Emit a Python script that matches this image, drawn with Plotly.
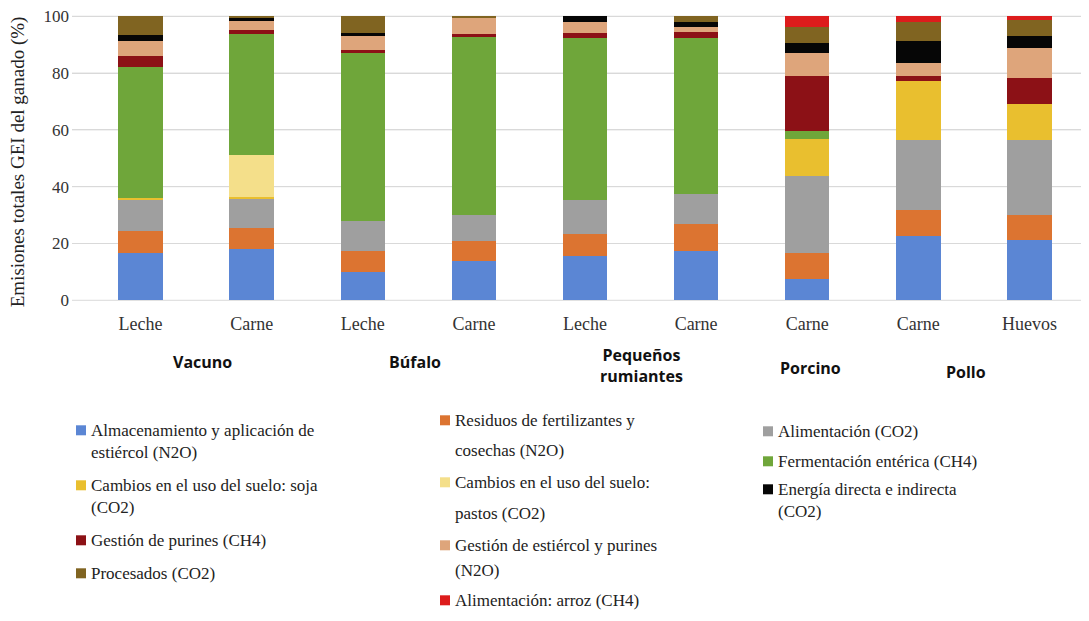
import plotly.graph_objects as go

# ---------------- data ----------------
bar_labels = ["Leche", "Carne", "Leche", "Carne", "Leche", "Carne", "Carne", "Carne", "Huevos"]
group_labels = ["Vacuno", "Búfalo", "Pequeños<br>rumiantes", "Porcino", "Pollo"]
group_centers = [0.553, 2.47, 4.51, 6.03, 7.43]

series_names = [
    "Almacenamiento y aplicación de estiércol (N2O)",
    "Residuos de fertilizantes y cosechas (N2O)",
    "Alimentación (CO2)",
    "Cambios en el uso del suelo: soja (CO2)",
    "Cambios en el uso del suelo: pastos (CO2)",
    "Fermentación entérica (CH4)",
    "Gestión de purines (CH4)",
    "Gestión de estiércol y purines (N2O)",
    "Energía directa e indirecta (CO2)",
    "Procesados (CO2)",
    "Alimentación: arroz (CH4)",
]

almacenamiento = [16.8, 18.1, 9.9, 13.7, 15.6, 17.5, 7.6, 22.5, 21.4]
residuos       = [7.6, 7.5, 7.4, 7.2, 7.6, 9.3, 9.2, 9.2, 8.5]
alimentacion   = [11.2, 10.3, 10.5, 9.3, 12.2, 10.8, 27.0, 24.6, 26.7]
soja           = [0.5, 0.3, 0.0, 0.0, 0.0, 0.0, 12.9, 20.9, 12.4]
pastos         = [0.0, 15.0, 0.0, 0.0, 0.0, 0.0, 0.0, 0.0, 0.0]
fermentacion   = [46.1, 42.5, 59.4, 62.5, 57.0, 54.8, 2.9, 0.0, 0.0]
purines_ch4    = [3.8, 1.4, 1.1, 1.2, 1.8, 2.0, 19.3, 1.7, 9.3]
estiercol_n2o  = [5.3, 3.3, 4.7, 5.6, 3.7, 1.8, 8.0, 4.8, 10.7]
energia        = [2.2, 1.2, 1.1, 0.1, 2.1, 1.7, 3.7, 7.6, 4.2]
procesados     = [6.5, 0.4, 5.9, 0.4, 0.0, 2.1, 5.6, 6.8, 5.6]
arroz          = [0.0, 0.0, 0.0, 0.0, 0.0, 0.0, 3.8, 1.9, 1.2]

series_values = [almacenamiento, residuos, alimentacion, soja, pastos, fermentacion,
                 purines_ch4, estiercol_n2o, energia, procesados, arroz]

colors = ["#5b86d4", "#dc7431", "#9f9f9f", "#e9bf2f", "#f4df8a", "#6fa63a",
          "#8c1116", "#dea57b", "#060606", "#806421", "#dd1c1c"]

y_ticks = [0, 20, 40, 60, 80, 100]
y_title = "Emisiones totales GEI del ganado (%)"

# ---------------- layout helpers ----------------
OFF = 8                      # page body margin in the browser
Y_LO, Y_HI = -0.25, 100.45
SC = (300 - 16) / 100.0      # px per percent in screenshot
W, H = 1089 - OFF, 621 - OFF
PL, PR = 72 - OFF, 1085 - OFF
PT = 16 - (Y_HI - 100) * SC - OFF
PB = 300 - Y_LO * SC - OFF

def px(x):   # screenshot x -> paper
    return (x - OFF - PL) / (PR - PL)

def py(y):   # screenshot y -> paper
    return (PB - (y - OFF)) / (PB - PT)

xs = list(range(len(bar_labels)))

fig = go.Figure()
for name, vals, col in zip(series_names, series_values, colors):
    fig.add_trace(go.Bar(x=xs, y=vals, name=name, marker=dict(color=col, line=dict(width=0)),
                         width=0.4, showlegend=False))

serif = "Liberation Serif"
sans = "Open Sans"

fig.update_layout(
    barmode="stack",
    width=W, height=H,
    margin=dict(l=PL, r=W - PR, t=PT, b=H - PB, pad=0, autoexpand=False),
    paper_bgcolor="white", plot_bgcolor="white",
    font=dict(family=serif, size=16, color="#222"),
    xaxis=dict(range=[-0.617, 8.5], tickvals=xs, ticktext=bar_labels, showgrid=False,
               zeroline=False, showline=False, ticks="", ticklabelstandoff=10, automargin=False,
               tickfont=dict(family=serif, size=18, color="#333")),
    yaxis=dict(range=[Y_LO, Y_HI], tickvals=y_ticks, showgrid=True, gridcolor="#d9d9d9",
               gridwidth=1, zeroline=False, showline=False, ticks="", ticklabelstandoff=2,
               ticklabeloverflow="allow", automargin=False,
               tickfont=dict(family=serif, size=17, color="#333")),
)

annotations = []
# y-axis title
annotations.append(dict(text=y_title, x=px(18), y=py(162), xref="paper", yref="paper",
                        textangle=-90, showarrow=False, xanchor="center", yanchor="middle",
                        font=dict(family=serif, size=19, color="#222")))
# group labels
group_y = [362, 362, 365, 368, 372]
for g, c, gy in zip(group_labels, group_centers, group_y):
    annotations.append(dict(text="<b>" + g + "</b>", x=c, y=py(gy), xref="x", yref="paper",
                            showarrow=False, xanchor="center", yanchor="middle",
                            font=dict(family=sans, size=16, color="#111")))

# legend (manual, three columns)
legend_lines = [
    ["Almacenamiento y aplicación de", "estiércol (N2O)"],
    ["Residuos de fertilizantes y", "cosechas (N2O)"],
    ["Alimentación (CO2)"],
    ["Cambios en el uso del suelo: soja", "(CO2)"],
    ["Cambios en el uso del suelo:", "pastos (CO2)"],
    ["Fermentación entérica (CH4)"],
    ["Gestión de purines (CH4)"],
    ["Gestión de estiércol y purines", "(N2O)"],
    ["Energía directa e indirecta", "(CO2)"],
    ["Procesados (CO2)"],
    ["Alimentación: arroz (CH4)"],
]
legend_pos = [  # (square x, text x, [line y centres]) in screenshot px
    (76, 89, [430, 452]),
    (440, 453, [420, 450]),
    (763, 776, [431]),
    (76, 89, [485, 507]),
    (440, 453, [482, 513]),
    (763, 776, [461]),
    (76, 89, [540]),
    (440, 453, [545, 570]),
    (763, 776, [489, 511]),
    (76, 89, [573]),
    (440, 453, [600]),
]
shapes = []
# horizontal gridlines (drawn from the y tick values so the end lines are always visible)
for t in y_ticks:
    shapes.append(dict(type="line", xref="paper", yref="y", x0=0, x1=1, y0=t, y1=t,
                       line=dict(color="#d9d9d9", width=1), layer="below"))
for lines, (sx, tx, ys), col in zip(legend_lines, legend_pos, colors):
    shapes.append(dict(type="rect", xref="paper", yref="paper",
                       x0=px(sx), x1=px(sx + 10), y0=py(ys[0] + 5), y1=py(ys[0] - 5),
                       fillcolor=col, line=dict(width=0)))
    for ln, yy in zip(lines, ys):
        annotations.append(dict(text=ln, x=px(tx), y=py(yy), xref="paper", yref="paper",
                                showarrow=False, xanchor="left", yanchor="middle",
                                font=dict(family=serif, size=17, color="#222")))

fig.update_layout(annotations=annotations, shapes=shapes)
fig.write_html("out.html")
